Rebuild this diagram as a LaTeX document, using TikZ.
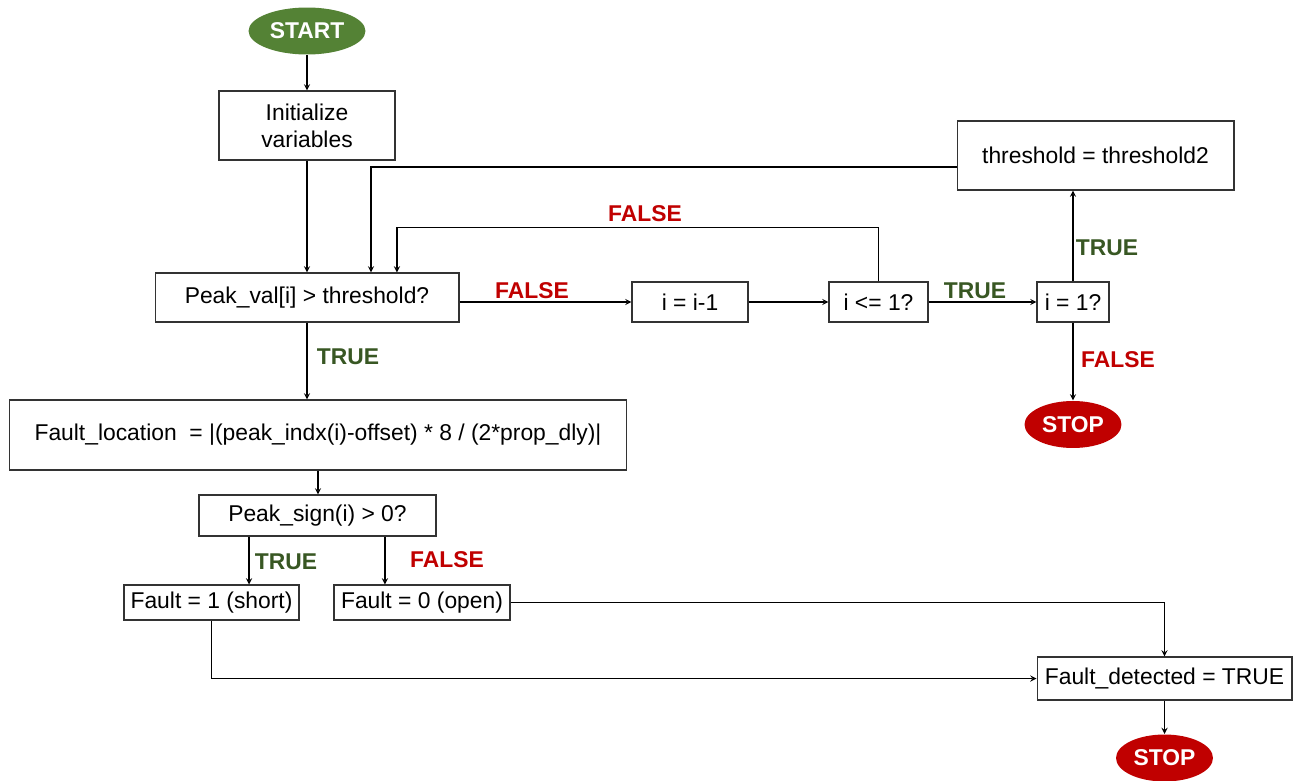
\documentclass[tikz,border=0pt]{standalone}
\usepackage{fontspec}
\setmainfont{Liberation Sans}
\usetikzlibrary{shapes.geometric}
\definecolor{startgreen}{HTML}{548235}
\definecolor{truegreen}{HTML}{385723}
\definecolor{falsered}{HTML}{C00000}

\begin{document}
\begin{tikzpicture}[x=0.02cm,y=-0.02cm,line width=0.6pt,
        box/.style={draw=black!80,inner sep=0pt,align=center,font=\fontsize{13}{15.3}\selectfont},
        term/.style={ellipse,inner sep=0pt,text=white,minimum height=0.94cm,font=\fontsize{13}{15.3}\selectfont\bfseries},
        yes/.style={text=truegreen,font=\fontsize{13}{15.3}\selectfont\bfseries},
        no/.style={text=falsered,font=\fontsize{13}{15.3}\selectfont\bfseries}]
    \useasboundingbox (0,0) rectangle (1296,781);
    % Start and setup
    \node[term,fill=startgreen,minimum width=2.34cm] (start) at (307,31) {START};
    \node[box,minimum width=3.52cm,minimum height=1.38cm] (init) at (307,125.5) {Initialize\\variables};
    \node[box,minimum width=6.08cm,minimum height=0.98cm] (peak) at (307,297.5) {Peak\_val[i] > threshold?};
    % Search loop
    \node[box,minimum width=2.32cm,minimum height=0.8cm] (dec) at (690,302) {i = i-1};
    \node[box,minimum width=1.98cm,minimum height=0.8cm] (le) at (878.5,302) {i <= 1?};
    \node[box,minimum width=1.44cm,minimum height=0.8cm] (eq) at (1073,302) {i = 1?};
    \node[box,minimum width=5.54cm,minimum height=1.38cm] (thr) at (1095.5,155.5) {threshold = threshold2};
    \node[term,fill=falsered,minimum width=1.94cm] (stopa) at (1073,424.5) {STOP};
    % Fault branch
    \node[box,minimum width=12.36cm,minimum height=1.4cm] (loc) at (318,435) {Fault\_location \ = |(peak\_indx(i)-offset) * 8 / (2*prop\_dly)|};
    \node[box,minimum width=4.74cm,minimum height=0.82cm] (sign) at (317.5,515.5) {Peak\_sign(i) > 0?};
    \node[box,minimum width=3.5cm,minimum height=0.7cm] (short) at (211.5,602.5) {Fault = 1 (short)};
    \node[box,minimum width=3.52cm,minimum height=0.7cm] (open) at (422,602.5) {Fault = 0 (open)};
    \node[box,minimum width=5.1cm,minimum height=0.86cm] (det) at (1164.5,678.5) {Fault\_detected = TRUE};
    \node[term,fill=falsered,minimum width=1.94cm] (stopb) at (1164.5,758) {STOP};
    % Connectors
    \draw[-stealth] (start) -- (init);
    \draw[-stealth] (init) -- (peak);
    \draw[-stealth] ([yshift=-0.23cm]thr.west) -| ([xshift=1.28cm]peak.north);
    \draw[-stealth] (le.north) -- ++(0,-54) -| ([xshift=1.8cm]peak.north);
    \draw[-stealth] (peak.east |- dec.west) -- (dec.west);
    \draw[-stealth] (dec) -- (le);
    \draw[-stealth] (le) -- (eq);
    \draw[-stealth] (eq) -- (eq |- thr.south);
    \draw[-stealth] (eq) -- (stopa);
    \draw[-stealth] (peak) -- (peak |- loc.north);
    \draw[-stealth] (loc.south) -- (loc.south |- sign.north);
    \draw[-stealth] ([xshift=-1.37cm]sign.south) -- ([xshift=-1.37cm]sign.south |- short.north);
    \draw[-stealth] ([xshift=1.35cm]sign.south) -- ([xshift=1.35cm]sign.south |- open.north);
    \draw[-stealth] (open.east) -| (det.north);
    \draw[-stealth] (short.south) |- (det.west);
    \draw[-stealth] (det) -- (stopb);
    % Labels
    \node[no] (lfa) at (532,291) {FALSE};
    \node[no] (lfb) at (645,214) {FALSE};
    \node[yes] (lta) at (975,291) {TRUE};
    \node[yes] (ltb) at (1107,248) {TRUE};
    \node[no] (lfc) at (1118,360) {FALSE};
    \node[yes] (ltc) at (348,357) {TRUE};
    \node[yes] (ltd) at (286,562) {TRUE};
    \node[no] (lfd) at (447,560) {FALSE};
\end{tikzpicture}
\end{document}
